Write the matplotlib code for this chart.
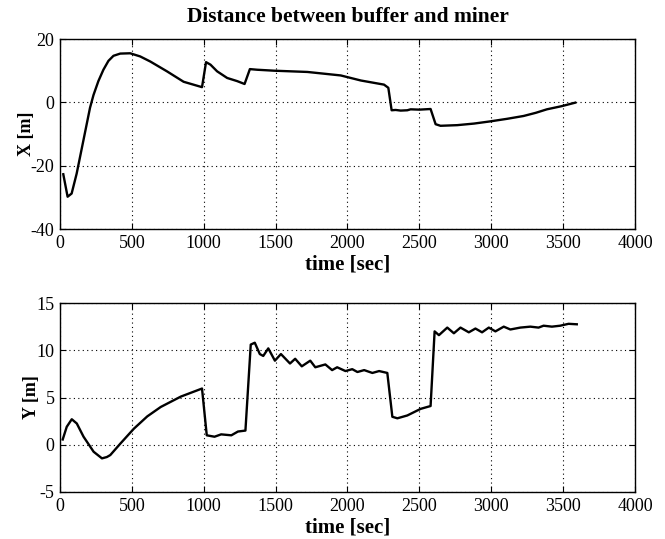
import matplotlib.pyplot as plt

# leitura aproximada dos pontos da figura original
tempo_x = [23, 53, 81, 116, 163, 209, 233, 267, 302, 337, 372, 419, 488, 558, 628, 744, 860, 988,
           1016, 1047, 1093, 1163, 1233, 1284, 1321, 1372, 1488, 1721, 1953, 2093,
           2254, 2284, 2307, 2335, 2370, 2416, 2439, 2500, 2578, 2613, 2647, 2763,
           2880, 2994, 3110, 3225, 3310, 3387, 3490, 3584]
valores_x = [-22.7, -29.8, -28.8, -22.5, -12.0, -1.7, 2.3, 6.7, 10.3, 13.1, 14.7, 15.4, 15.5, 14.5, 12.9, 9.8, 6.5, 4.8,
             12.7, 11.9, 9.8, 7.7, 6.7, 5.8, 10.5, 10.3, 10.0, 9.6, 8.5, 6.9,
             5.6, 4.6, -2.5, -2.4, -2.6, -2.5, -2.2, -2.3, -2.1, -6.9, -7.4, -7.2,
             -6.7, -6.0, -5.2, -4.3, -3.3, -2.2, -1.2, -0.1]

tempo_y = [19, 47, 82, 117, 164, 234, 292, 326, 350, 421, 514, 607, 701, 841, 988,
           1021, 1075, 1121, 1192, 1238, 1290, 1327, 1355, 1390, 1414, 1449, 1495,
           1537, 1600, 1636, 1682, 1741, 1776, 1846, 1893, 1928, 1986, 2033, 2069,
           2116, 2173, 2220, 2277, 2312, 2347, 2416, 2509, 2578, 2606, 2636, 2694,
           2740, 2786, 2844, 2890, 2936, 2983, 3029, 3087, 3133, 3202, 3272, 3329,
           3364, 3422, 3480, 3538, 3595]
valores_y = [0.56, 1.9, 2.7, 2.25, 0.85, -0.74, -1.44, -1.3, -1.09, 0.14, 1.7, 3.0, 4.0, 5.1, 5.95,
             1.0, 0.85, 1.1, 1.0, 1.4, 1.5, 10.6, 10.8, 9.6, 9.4, 10.2, 8.9,
             9.6, 8.6, 9.1, 8.3, 8.9, 8.2, 8.5, 7.9, 8.2, 7.8, 8.0, 7.7,
             7.9, 7.6, 7.8, 7.6, 2.96, 2.8, 3.1, 3.8, 4.1, 12.0, 11.6, 12.4,
             11.8, 12.4, 11.9, 12.3, 11.9, 12.4, 12.0, 12.5, 12.2, 12.4, 12.5, 12.4,
             12.6, 12.5, 12.6, 12.8, 12.75]

plt.rcParams['font.family'] = ['Liberation Serif', 'DejaVu Serif']
plt.rcParams['axes.unicode_minus'] = False

fig = plt.figure(figsize=(6.65, 5.39), dpi=100)
ax1 = fig.add_axes([0.0902, 0.5751, 0.8647, 0.3525])
ax2 = fig.add_axes([0.0902, 0.0872, 0.8647, 0.3506])


def formatar(ax, ylim, yticks, ylabel):
    ax.set_xlim(0, 4000)
    ax.set_ylim(*ylim)
    ax.set_xticks(range(0, 4001, 500))
    ax.set_yticks(yticks)
    ax.grid(True, linestyle=(0, (1, 3)), color='black', linewidth=0.8)
    ax.tick_params(direction='in', top=True, right=True, labelsize=13, length=4, pad=4)
    ax.set_xlabel('time [sec]', fontsize=15, fontweight='bold', labelpad=2)
    ax.set_ylabel(ylabel, fontsize=13, fontweight='bold', labelpad=-3)
    for s in ax.spines.values():
        s.set_linewidth(1.0)


ax1.plot(tempo_x, valores_x, color='black', linewidth=1.7)
formatar(ax1, (-40, 20), [-40, -20, 0, 20], 'X [m]')
ax1.set_title('Distance between buffer and miner', fontsize=15.5, fontweight='bold', pad=12)

ax2.plot(tempo_y, valores_y, color='black', linewidth=1.7)
formatar(ax2, (-5, 15), [-5, 0, 5, 10, 15], 'Y [m]')

plt.savefig('out.png', dpi=100)
